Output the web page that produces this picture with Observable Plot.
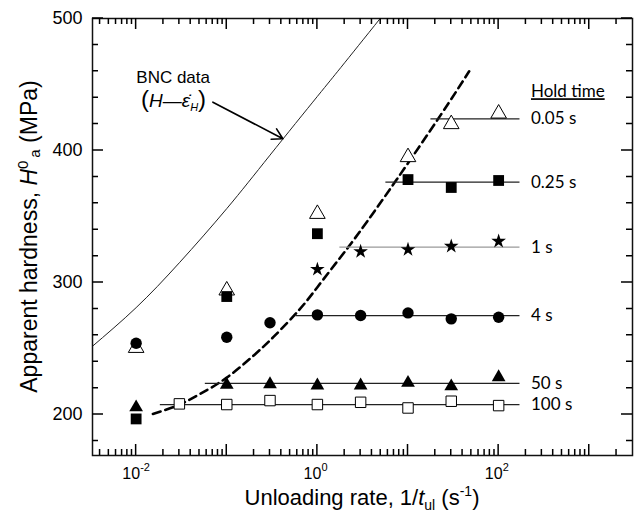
<!DOCTYPE html>
<html><head><meta charset="utf-8">
<script src="https://cdn.jsdelivr.net/npm/d3@7"></script>
<script src="https://cdn.jsdelivr.net/npm/@observablehq/plot@0.6"></script>
<style>body{margin:0;background:#fff}</style>
</head><body><div id="chart"></div>
<script>
// ---- data ----
const holdLabels = ["0.05 s", "0.25 s", "1 s", "4 s", "50 s", "100 s"];
const holdTitle = "Hold time";

// hold time 0.05 s (open triangles)
const x005 = [0.01, 0.1, 1, 10, 30, 100];
const y005 = [250.5, 294, 352, 395, 420, 428];
// hold time 0.25 s (filled squares)
const x025 = [0.01, 0.1, 1, 10, 30, 100];
const y025 = [196.7, 289.4, 337, 378, 372, 377.3];
// hold time 1 s (stars)
const x1 = [1, 3, 10, 30, 100];
const y1 = [310, 323.5, 325, 327.5, 331.3];
// hold time 4 s (filled circles)
const x4 = [0.01, 0.1, 0.3, 1, 3, 10, 30, 100];
const y4 = [254, 258.6, 269.5, 275.5, 275, 277, 272.5, 273.7];
// hold time 50 s (filled triangles)
const x50 = [0.01, 0.1, 0.3, 1, 3, 10, 30, 100];
const y50 = [205.5, 222.5, 223, 222, 222, 224, 221.4, 228.3];
// hold time 100 s (open squares)
const x100 = [0.03, 0.1, 0.3, 1, 3, 10, 30, 100];
const y100 = [208.1, 207.6, 210.6, 207.6, 209.3, 205, 210.1, 206.8];

// plateau lines per hold time
const holdLevel = [424, 376, 326.8, 275, 223.7, 207.6];
const holdStart = [17.9, 5.7, 1.77, 0.58, 0.058, 0.0185];
const holdEnd = [172, 172, 172, 172, 172, 172];
const holdTitleLevel = [444.5];

// BNC data curve (H - strain rate)
const bncX = [0.0032, 0.01, 0.03, 0.1, 0.3, 1, 1.82, 4.93];
const bncY = [251, 281, 315, 356, 396.5, 441, 463, 500];

// dashed trend curve
const dashX = [0.0153, 0.03, 0.052, 0.1, 0.2, 0.33, 0.624, 1.0, 1.8, 3.0, 7.5, 23, 47.3];
const dashY = [200.5, 207.5, 216, 228, 245, 259, 279, 296.5, 319.2, 339.4, 378, 427, 460];

// annotation
const bncLabel = ["BNC data"];
const bncLabelX = [0.0256], bncLabelY = [451.5];
const formulaX = [0.0237], formulaY = [432.6];
const arrowX1 = [0.0703], arrowY1 = [436.6], arrowX2 = [0.416], arrowY2 = [408.9];

// axes ticks
const xMajor = [0.01, 0.1, 1, 10, 100, 1000];
const xMinor = [0.004, 0.005, 0.006, 0.007, 0.008, 0.009,
  0.02, 0.03, 0.04, 0.05, 0.06, 0.07, 0.08, 0.09,
  0.2, 0.3, 0.4, 0.5, 0.6, 0.7, 0.8, 0.9,
  2, 3, 4, 5, 6, 7, 8, 9,
  20, 30, 40, 50, 60, 70, 80, 90,
  200, 300, 400, 500, 600, 700, 800, 900, 2000];
const xLabelVals = [0.01, 1, 100];
const xLabelBase = ["10", "10", "10"];
const xLabelExp = ["-2", "0", "2"];
const yMajor = [200, 300, 400, 500];
const yMinor = [180, 220, 240, 260, 280, 320, 340, 360, 380, 420, 440, 460, 480];

// ---- build ----
const zip = (xs, ys) => xs.map((x, i) => ({x, y: ys[i]}));
const holds = holdLabels.map((label, i) => ({label, level: holdLevel[i], start: holdStart[i], end: holdEnd[i]}));
const xLabels = xLabelVals.map((v, i) => ({v, base: xLabelBase[i], exp: xLabelExp[i]}));

const W = 636, H = 521, mL = 92, mR = 4, mT = 18, mB = 66;
const fw = W - mL - mR, fh = H - mT - mB;
const fTop = mT, fBottom = mT + fh, fLeft = mL, fRight = mL + fw;
const MAJ = 11, MIN = 6;
const sans = "'Liberation Sans', Arial, sans-serif";
const labelFont = "Lato, 'Open Sans', sans-serif";
const xDomain = [0.0033, 3000], yDomain = [169, 500];

const plot = Plot.plot({
  width: W, height: H,
  marginLeft: mL, marginRight: mR, marginTop: mT, marginBottom: mB,
  style: {fontFamily: sans, background: "white", color: "black"},
  x: {type: "log", domain: xDomain, axis: null},
  y: {domain: yDomain, axis: null},
  marks: [
    // y tick labels
    Plot.text(yMajor, {y: d => d, frameAnchor: "left", text: d => String(d), textAnchor: "end", dx: -10, fontSize: 18}),
    // x tick labels with superscripts
    Plot.text(xLabels, {x: "v", frameAnchor: "bottom", text: "base", textAnchor: "end", dx: 4, dy: 23, lineAnchor: "bottom", fontSize: 16}),
    Plot.text(xLabels, {x: "v", frameAnchor: "bottom", text: "exp", textAnchor: "start", dx: 4, dy: 15, lineAnchor: "bottom", fontSize: 11}),
    // curves
    Plot.line(zip(bncX, bncY), {x: "x", y: "y", curve: "natural", stroke: "#222", strokeWidth: 1, clip: true}),
    Plot.line(zip(dashX, dashY), {x: "x", y: "y", curve: "natural", stroke: "black", strokeWidth: 2.6, strokeDasharray: "8,5"}),
    // plateau lines
    Plot.ruleY(holds, {y: "level", x1: "start", x2: "end", stroke: d => d.label === "1 s" ? "#9a9a9a" : "#222", strokeWidth: 1.2}),
    // markers
    Plot.dot(zip(x005, y005), {x: "x", y: "y", symbol: "triangle", r: 5.8, fill: "white", stroke: "black", strokeWidth: 1}),
    Plot.dot(zip(x025, y025), {x: "x", y: "y", symbol: "square", r: 6.1, fill: "black", stroke: "none"}),
    Plot.dot(zip(x50, y50), {x: "x", y: "y", symbol: "triangle", r: 5.1, fill: "black", stroke: "none"}),
    Plot.dot(zip(x100, y100), {x: "x", y: "y", symbol: "square", r: 5.9, fill: "white", stroke: "black", strokeWidth: 1}),
    Plot.dot(zip(x4, y4), {x: "x", y: "y", symbol: "circle", r: 5.7, fill: "black", stroke: "none"}),
    Plot.dot(zip(x1, y1), {x: "x", y: "y", symbol: "star", r: 4.6, fill: "black", stroke: "none"}),
    // hold-time labels
    Plot.text(holds, {x: "end", y: "level", text: "label", textAnchor: "start", dx: 11, fontSize: 17, fontFamily: labelFont}),
    Plot.text(holdTitleLevel, {x: holdEnd[0], y: d => d, text: () => holdTitle, textAnchor: "start", dx: 11, fontSize: 17, fontFamily: labelFont}),
    // annotation
    Plot.text(bncLabel, {x: bncLabelX[0], y: bncLabelY[0], text: d => d, textAnchor: "middle", lineAnchor: "bottom", fontSize: 17}),
    Plot.arrow([0], {x1: arrowX1[0], y1: arrowY1[0], x2: arrowX2[0], y2: arrowY2[0], headLength: 11, strokeWidth: 1.6, stroke: "black"}),
    Plot.frame({stroke: "#111", strokeWidth: 1.5})
  ]
});

const svg = d3.select(plot);
const sx = plot.scale("x"), sy = plot.scale("y");
svg.selectAll("text").filter(function () { return this.textContent === holdTitle; })
  .attr("text-decoration", "underline");

// inward ticks on all four sides, placed with Plot's scales, as one path
let dPath = "";
for (const [vals, len] of [[xMajor, MAJ], [xMinor, MIN]]) {
  for (const v of vals) {
    const px = sx.apply(v);
    dPath += `M${px},${fBottom}V${fBottom - len}M${px},${fTop}V${fTop + len}`;
  }
}
for (const [vals, len] of [[yMajor, MAJ], [yMinor, MIN]]) {
  for (const v of vals) {
    const py = sy.apply(v);
    dPath += `M${fLeft},${py}H${fLeft + len}M${fRight},${py}H${fRight - len}`;
  }
}
svg.append("path").attr("d", dPath).attr("fill", "none").attr("stroke", "black").attr("stroke-width", 1.5);

// formula (H — ε̇_H)
const ft = svg.append("text")
  .attr("x", sx.apply(formulaX[0]) + 4).attr("y", sy.apply(formulaY[0]))
  .attr("text-anchor", "middle").attr("font-family", sans).attr("font-size", 19).attr("fill", "black");
ft.append("tspan").attr("font-size", 24).text("(");
ft.append("tspan").attr("font-style", "italic").text("H");
ft.append("tspan").text("\u2014");
ft.append("tspan").attr("font-style", "italic").text("\u03B5\u0307");
ft.append("tspan").attr("font-style", "italic").attr("font-size", 11).attr("dy", 4).text("H");
ft.append("tspan").attr("font-size", 24).attr("dy", -4).text(")");

// x axis title
const xt = svg.append("text")
  .attr("x", mL + fw / 2).attr("y", 505).attr("text-anchor", "middle")
  .attr("font-family", sans).attr("font-size", 22).attr("fill", "black");
xt.append("tspan").text("Unloading rate, 1/");
xt.append("tspan").attr("font-style", "italic").text("t");
xt.append("tspan").attr("font-size", 14).attr("dy", 5).text("ul");
xt.append("tspan").attr("dy", -5).text(" (s");
xt.append("tspan").attr("font-size", 14).attr("dy", -9).text("-1");
xt.append("tspan").attr("dy", 9).text(")");

// y axis title
const yt = svg.append("text")
  .attr("transform", `translate(37,${mT + fh / 2}) rotate(-90)`).attr("text-anchor", "middle")
  .attr("font-family", sans).attr("font-size", 23).attr("fill", "black");
yt.append("tspan").text("Apparent hardness, ");
yt.append("tspan").attr("font-style", "italic").text("H");
yt.append("tspan").attr("font-size", 15).attr("dy", -9).text("0");
yt.append("tspan").attr("font-size", 15).attr("dy", 12).attr("dx", 3).text("a");
yt.append("tspan").attr("dy", -3).text(" (MPa)");

document.getElementById("chart").appendChild(plot);
</script>
</body></html>
